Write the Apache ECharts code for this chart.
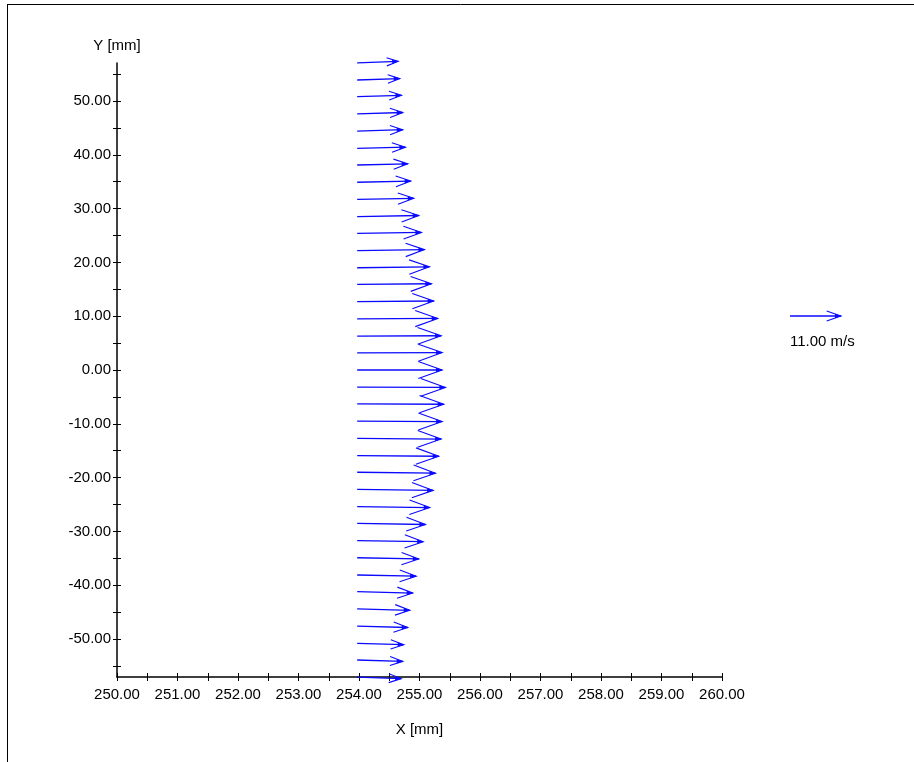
<!DOCTYPE html>
<html>
<head>
<meta charset="utf-8">
<script src="https://cdn.jsdelivr.net/npm/echarts@6/dist/echarts.min.js"></script>
<style>
html,body{margin:0;padding:0;background:#fff;}
#c{width:914px;height:762px;}
</style>
</head>
<body>
<div id="c"></div>
<script>
// ---- data ----
const xTail = [253.97,253.97,253.97,253.97,253.97,253.97,253.97,253.97,253.97,253.97,253.97,253.97,253.97,253.97,253.97,253.97,253.97,253.97,253.97,253.97,253.97,253.97,253.97,253.97,253.97,253.97,253.97,253.97,253.97,253.97,253.97,253.97,253.97,253.97,253.97,253.97,253.97];
const yPos = [57.1,53.9,50.8,47.6,44.4,41.2,38.1,34.9,31.7,28.5,25.4,22.2,19.0,15.9,12.7,9.5,6.3,3.2,0.0,-3.2,-6.3,-9.5,-12.7,-15.9,-19.0,-22.2,-25.4,-28.5,-31.7,-34.9,-38.1,-41.2,-44.4,-47.6,-50.8,-53.9,-57.1];
const uVel = [8.84,9.19,9.56,9.84,9.84,10.42,10.91,11.56,12.21,13.29,13.87,14.52,15.59,16.03,16.52,17.39,18.12,18.33,18.33,19.05,18.68,18.33,18.12,17.60,16.89,16.39,15.66,14.73,14.24,13.29,12.73,11.99,11.35,10.91,10.05,9.84,9.49];
const vVel = [0.3,0.3,0.3,0.3,0.3,0.25,0.25,0.25,0.25,0.25,0.2,0.2,0.2,0.15,0.15,0.1,0.08,0.04,0,-0.04,-0.08,-0.1,-0.15,-0.15,-0.2,-0.2,-0.2,-0.25,-0.25,-0.25,-0.25,-0.3,-0.3,-0.3,-0.3,-0.3,-0.3];
const refSpeed = 11.0;            // legend arrow, m/s
const xTickVals = [250,250.5,251,251.5,252,252.5,253,253.5,254,254.5,255,255.5,256,256.5,257,257.5,258,258.5,259,259.5,260];
const xLabelVals = [250,251,252,253,254,255,256,257,258,259,260];
const yTickVals = [-55,-50,-45,-40,-35,-30,-25,-20,-15,-10,-5,0,5,10,15,20,25,30,35,40,45,50,55];
const yLabelVals = [-50,-40,-30,-20,-10,0,10,20,30,40,50];

// ---- styles ----
const MM_PER_MS = 0.0766;   // arrow scale: mm of x-axis per m/s
const BLUE = '#0a0aff';
const FONT = 'Liberation Sans';

const arrowData = yPos.map((y, i) => [xTail[i], y, uVel[i], vVel[i]]);

function arrowShapes(p0, dx, dy) {
  const p1 = [p0[0] + dx, p0[1] + dy];
  const L = Math.hypot(dx, dy);
  const ux = dx / L, uy = dy / L;
  const hl = 0.28 * L, hw = 0.1 * L;
  const bx = p1[0] - ux * hl, by = p1[1] - uy * hl;
  const b1 = [bx - uy * hw, by + ux * hw];
  const b2 = [bx + uy * hw, by - ux * hw];
  const sl = 6, sw = 2.2;
  const tx = p1[0] - ux * sl, ty = p1[1] - uy * sl;
  return [
    {type: 'line', shape: {x1: p0[0], y1: p0[1], x2: p1[0], y2: p1[1]}, style: {stroke: BLUE, lineWidth: 1.3}},
    {type: 'polyline', shape: {points: [b1, p1, b2]}, style: {stroke: BLUE, lineWidth: 1.1, fill: null}},
    {type: 'polygon', shape: {points: [p1, [tx - uy * sw, ty + ux * sw], [tx + uy * sw, ty - ux * sw]]}, style: {fill: BLUE}}
  ];
}

const chart = echarts.init(document.getElementById('c'), null, {renderer: 'canvas'});
const axisText = {color: '#000', fontFamily: FONT, fontSize: 15};

chart.setOption({
  backgroundColor: '#fff',
  animation: false,
  grid: {left: 117, right: 192, top: 63, bottom: 85},
  graphic: [
    {type: 'line', shape: {x1: 7, y1: 4.5, x2: 914, y2: 4.5}, style: {stroke: '#000', lineWidth: 1}},
    {type: 'line', shape: {x1: 7.5, y1: 4, x2: 7.5, y2: 762}, style: {stroke: '#000', lineWidth: 1}}
  ],
  xAxis: [{
    type: 'value', min: 250, max: 260,
    name: 'X [mm]', nameLocation: 'middle', nameGap: 45,
    nameTextStyle: axisText,
    axisLine: {show: true, onZero: false, lineStyle: {color: '#000', width: 1.5}},
    axisTick: {show: true, length: 4, customValues: xTickVals, lineStyle: {color: '#000'}},
    axisLabel: {show: true, margin: 10, customValues: xLabelVals, formatter: v => v.toFixed(2), ...axisText},
    splitLine: {show: false}
  }, {
    type: 'value', min: 250, max: 260, position: 'bottom',
    axisLine: {show: false, onZero: false},
    axisTick: {show: true, inside: true, length: 4, customValues: xTickVals, lineStyle: {color: '#000'}},
    axisLabel: {show: false},
    splitLine: {show: false}
  }],
  yAxis: [{
    type: 'value', min: -57.06, max: 57.06,
    name: 'Y [mm]', nameLocation: 'end', nameGap: 10,
    nameTextStyle: {...axisText, align: 'center'},
    axisLine: {show: true, onZero: false, lineStyle: {color: '#000', width: 1.5}},
    axisTick: {show: true, length: 4, customValues: yTickVals, lineStyle: {color: '#000'}},
    axisLabel: {show: true, margin: 6, customValues: yLabelVals, formatter: v => v.toFixed(2), ...axisText},
    splitLine: {show: false}
  }, {
    type: 'value', min: -57.06, max: 57.06, position: 'left',
    axisLine: {show: false, onZero: false},
    axisTick: {show: true, inside: true, length: 4, customValues: yTickVals, lineStyle: {color: '#000'}},
    axisLabel: {show: false},
    splitLine: {show: false}
  }],
  series: [{
    type: 'custom',
    xAxisIndex: 0, yAxisIndex: 0,
    clip: false,
    data: arrowData,
    renderItem(params, api) {
      const x = api.value(0), y = api.value(1), u = api.value(2), v = api.value(3);
      const p0 = api.coord([x, y]);
      const sc = MM_PER_MS * api.size([1, 0])[0];
      return {type: 'group', children: arrowShapes(p0, u * sc, -v * sc)};
    }
  }, {
    type: 'custom',
    xAxisIndex: 0, yAxisIndex: 0,
    clip: false,
    data: [[refSpeed]],
    renderItem(params, api) {
      const s = api.value(0);
      const sc = MM_PER_MS * api.size([1, 0])[0];
      const cs = params.coordSys;
      const x0 = cs.x + cs.width + 68, y0 = 316;
      const kids = arrowShapes([x0, y0], s * sc, 0);
      kids.push({type: 'text', style: {x: x0, y: y0 + 18, text: s.toFixed(2) + ' m/s', fill: '#000', font: '15px ' + FONT, textAlign: 'left', textVerticalAlign: 'top'}});
      return {type: 'group', children: kids};
    }
  }]
});
</script>
</body>
</html>
